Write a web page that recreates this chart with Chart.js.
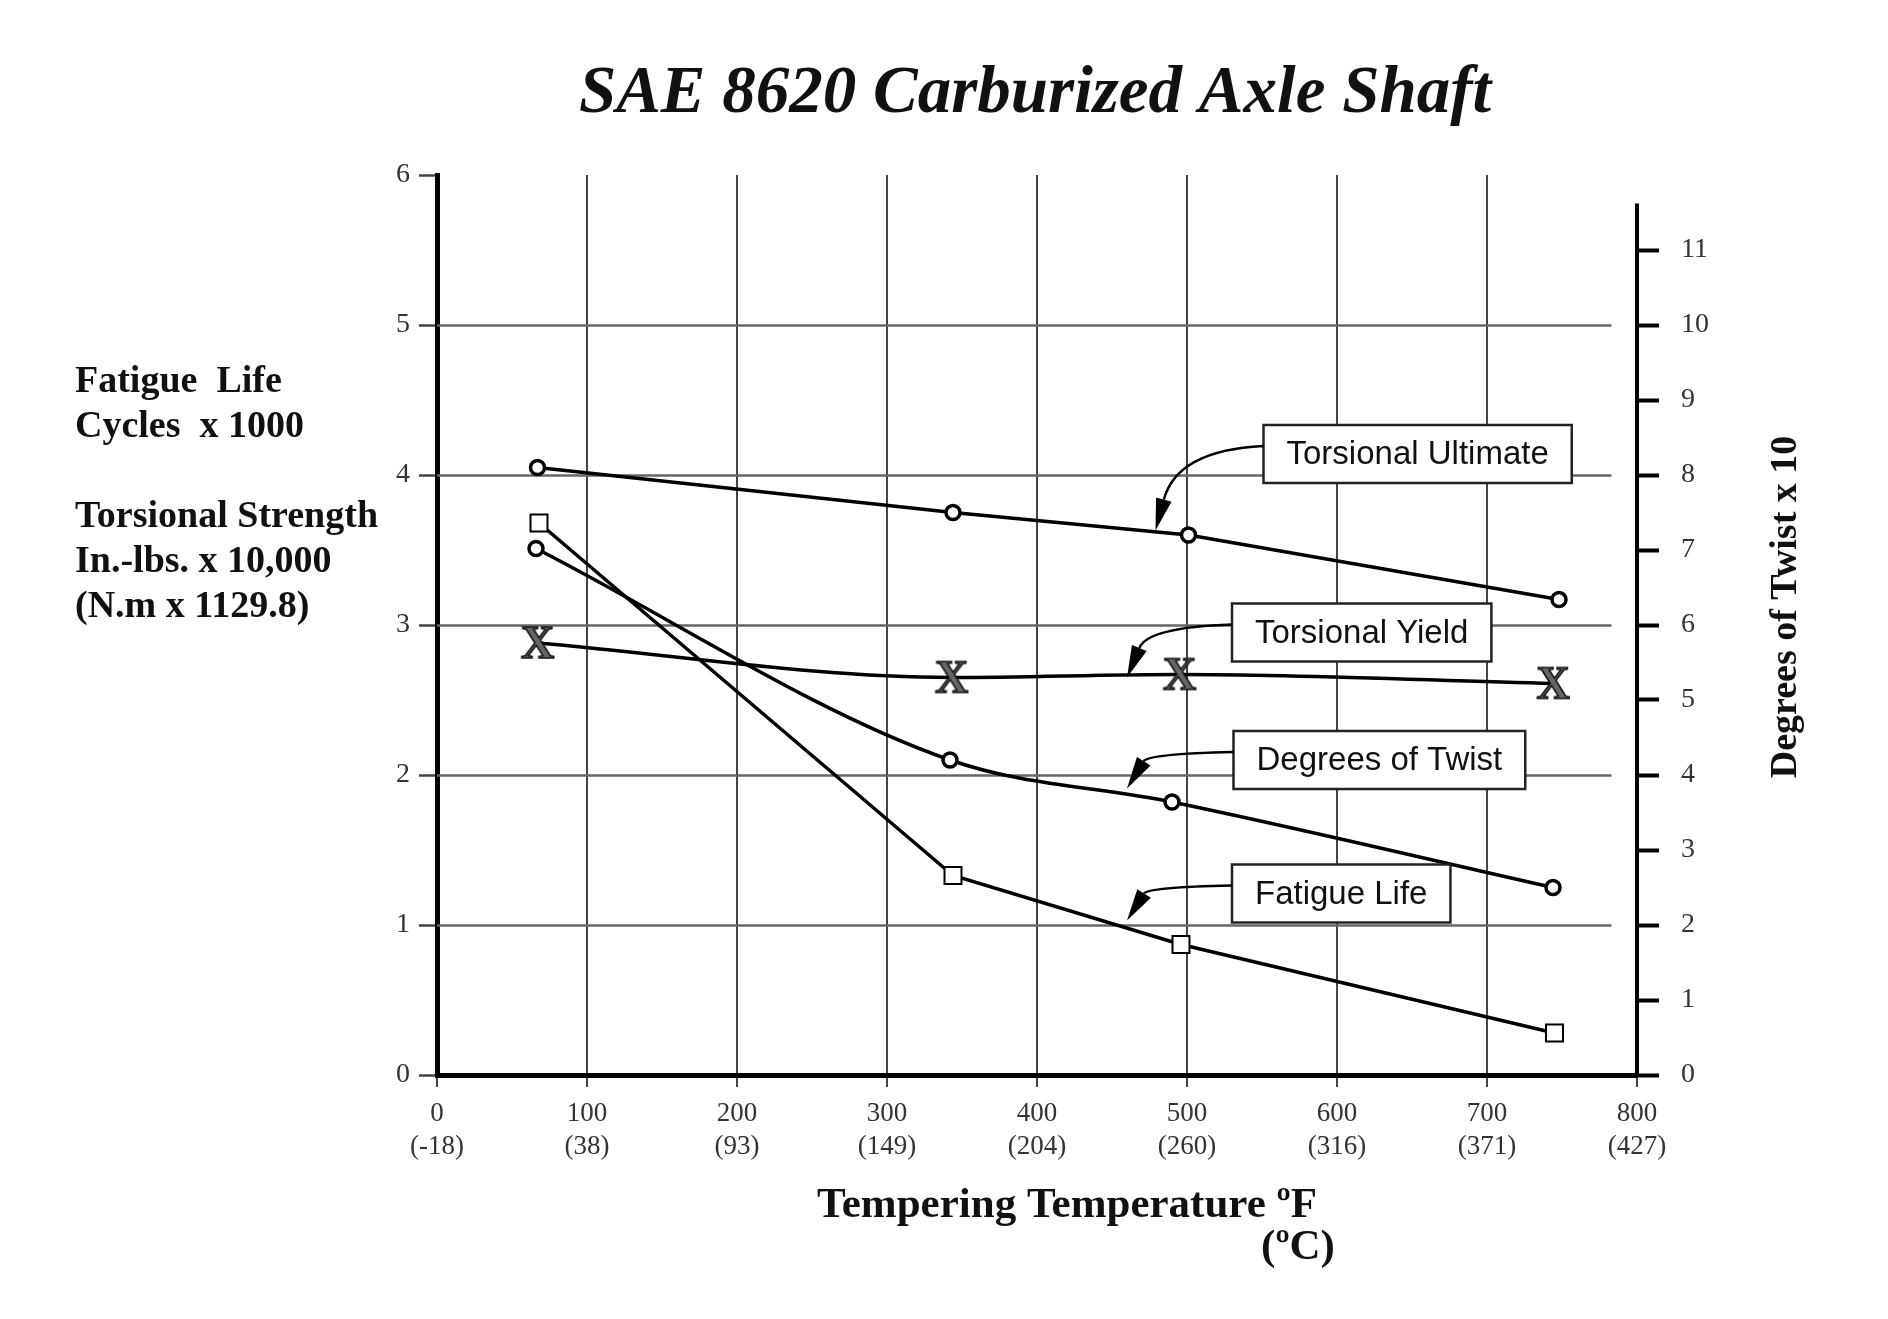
<!DOCTYPE html>
<html>
<head>
<meta charset="utf-8">
<title>SAE 8620 Carburized Axle Shaft</title>
<script src="https://cdn.jsdelivr.net/npm/chart.js@4.4.1/dist/chart.umd.min.js"></script>
<style>
  html, body { margin: 0; padding: 0; background: #fff; }
  #wrap { width: 1888px; height: 1319px; }
</style>
</head>
<body>
<div id="wrap"><canvas id="chart" width="1888" height="1319"></canvas></div>
<script>
// test points, tempering temperature in deg F
const ultimateTemps = [67, 344, 501, 748];
const ultimateValues = [4.05, 3.75, 3.60, 3.17];
const yieldTemps = [67, 343, 495, 744];
const yieldValues = [2.88, 2.65, 2.67, 2.61];
const twistTemps = [66, 342, 490, 744];
const twistValues = [7.02, 4.20, 3.64, 2.50];   // right axis, degrees x 10
const fatigueTemps = [68, 344, 496, 745];
const fatigueValues = [3.68, 1.33, 0.87, 0.28];

const celsiusLabels = ['(-18)', '(38)', '(93)', '(149)', '(204)', '(260)', '(316)', '(371)', '(427)'];

// callout boxes: box left edge / centre and arrow tip, in data units
const callouts = [
    { text: 'Torsional Ultimate', x: 551, y: 4.14, tipX: 479, tipY: 3.63 },
    { text: 'Torsional Yield', x: 530, y: 2.95, tipX: 460, tipY: 2.65 },
    { text: 'Degrees of Twist', x: 531, y: 2.10, tipX: 460, tipY: 1.91 },
    { text: 'Fatigue Life', x: 530, y: 1.21, tipX: 460, tipY: 1.03 }
];

const leftLabel = ['Fatigue  Life', 'Cycles  x 1000', '', 'Torsional Strength', 'In.-lbs. x 10,000', '(N.m x 1129.8)'];

const SERIF = '"Liberation Serif", "DejaVu Serif", serif';
const SANS = '"Liberation Sans", Arial, sans-serif';

function pts(xs, ys) {
    return xs.map((x, i) => ({ x: x, y: ys[i] }));
}

// the yield points are printed as a serif letter X
function makeXMark() {
    const c = document.createElement('canvas');
    c.width = 44;
    c.height = 44;
    const g = c.getContext('2d');
    g.font = 'bold 46px ' + SERIF;
    g.textAlign = 'center';
    g.textBaseline = 'alphabetic';
    g.fillStyle = '#666';
    g.strokeStyle = '#111';
    g.lineWidth = 1.6;
    g.fillText('X', 22, 22 + 0.662 * 46 / 2);
    g.strokeText('X', 22, 22 + 0.662 * 46 / 2);
    return c;
}

const lineBase = {
    borderColor: '#000',
    borderWidth: 3.5,
    tension: 0,
    pointBackgroundColor: '#fff',
    pointBorderColor: '#000',
    pointHoverRadius: 0,
    fill: false
};

const decor = {
    id: 'decor',
    beforeDatasetsDraw(chart) {
        // horizontal grid lines stop a little short of the right axis
        const { ctx, chartArea, scales } = chart;
        const xEnd = scales.x.getPixelForValue(783);
        ctx.save();
        ctx.strokeStyle = '#666';
        ctx.lineWidth = 2.5;
        scales.y.ticks.forEach(t => {
            if (t.value <= 0 || t.value >= 6) return;
            const py = Math.round(scales.y.getPixelForValue(t.value)) + 0.5;
            ctx.beginPath();
            ctx.moveTo(chartArea.left, py);
            ctx.lineTo(xEnd, py);
            ctx.stroke();
        });
        ctx.restore();
    },
    afterDatasetsDraw(chart) {
        const { ctx, chartArea, scales } = chart;
        const xs = scales.x, ys = scales.y, y2 = scales.y2;
        ctx.save();

        // right axis line (stops short of the top)
        ctx.strokeStyle = '#000';
        ctx.lineWidth = 4;
        ctx.beginPath();
        ctx.moveTo(chartArea.right, y2.getPixelForValue(11.62));
        ctx.lineTo(chartArea.right, y2.getPixelForValue(0) + 2);
        ctx.stroke();

        // callouts
        ctx.font = '33px ' + SANS;
        callouts.forEach(c => {
            const w = ctx.measureText(c.text).width + 46, h = 58;
            const bx = xs.getPixelForValue(c.x), by = ys.getPixelForValue(c.y);
            ctx.fillStyle = '#fff';
            ctx.fillRect(bx, by - h / 2, w, h);
            ctx.strokeStyle = '#222';
            ctx.lineWidth = 2.5;
            ctx.strokeRect(bx, by - h / 2, w, h);
            ctx.fillStyle = '#111';
            ctx.textAlign = 'left';
            ctx.textBaseline = 'middle';
            ctx.fillText(c.text, bx + 23, by + 1);

            const sx = bx, sy = by - 8;
            const tx = xs.getPixelForValue(c.tipX), ty = ys.getPixelForValue(c.tipY);
            const cx = tx + 0.2 * (sx - tx), cy = sy + 0.05 * (ty - sy);
            const ang = Math.atan2(ty - cy, tx - cx);
            const len = 32, half = 8;
            const baseX = tx - len * Math.cos(ang), baseY = ty - len * Math.sin(ang);
            ctx.strokeStyle = '#000';
            ctx.lineWidth = 2.5;
            ctx.beginPath();
            ctx.moveTo(sx, sy);
            ctx.quadraticCurveTo(cx, cy, baseX, baseY);
            ctx.stroke();
            ctx.fillStyle = '#000';
            ctx.beginPath();
            ctx.moveTo(tx, ty);
            ctx.lineTo(baseX + half * Math.sin(ang), baseY - half * Math.cos(ang));
            ctx.lineTo(baseX - half * Math.sin(ang), baseY + half * Math.cos(ang));
            ctx.closePath();
            ctx.fill();
        });
        ctx.restore();
    },
    afterDraw(chart) {
        const ctx = chart.ctx;
        ctx.save();
        ctx.fillStyle = '#111';
        ctx.textBaseline = 'alphabetic';

        ctx.textAlign = 'center';
        ctx.font = 'italic bold 67px ' + SERIF;
        ctx.fillText('SAE 8620 Carburized Axle Shaft', 1035, 112);

        ctx.textAlign = 'left';
        ctx.font = 'bold 38px ' + SERIF;
        leftLabel.forEach((t, i) => ctx.fillText(t, 75, 392 + i * 45));

        ctx.textAlign = 'center';
        ctx.font = 'bold 43px ' + SERIF;
        ctx.fillText('Tempering Temperature ºF', 1067, 1217);
        ctx.fillText('(ºC)', 1298, 1259);

        ctx.translate(1786, 607);
        ctx.rotate(-Math.PI / 2);
        ctx.textBaseline = 'middle';
        ctx.font = 'bold 38px ' + SERIF;
        ctx.fillText('Degrees of Twist x 10', 0, 0);
        ctx.restore();
    }
};

new Chart(document.getElementById('chart'), {
    type: 'line',
    data: {
        datasets: [
            Object.assign({}, lineBase, {
                label: 'Torsional Ultimate',
                data: pts(ultimateTemps, ultimateValues),
                pointStyle: 'circle', pointRadius: 7, pointBorderWidth: 3.5
            }),
            Object.assign({}, lineBase, {
                label: 'Torsional Yield',
                data: pts(yieldTemps, yieldValues),
                cubicInterpolationMode: 'monotone',
                pointStyle: makeXMark(), pointRadius: 22
            }),
            Object.assign({}, lineBase, {
                label: 'Degrees of Twist',
                data: pts(twistTemps, twistValues),
                yAxisID: 'y2',
                cubicInterpolationMode: 'monotone',
                pointStyle: 'circle', pointRadius: 7, pointBorderWidth: 3.5
            }),
            Object.assign({}, lineBase, {
                label: 'Fatigue Life',
                data: pts(fatigueTemps, fatigueValues),
                pointStyle: 'rect', pointRadius: 12, pointBorderWidth: 2
            })
        ]
    },
    options: {
        responsive: false,
        animation: false,
        devicePixelRatio: 1,
        layout: { padding: { top: 175, left: 0, right: 0, bottom: 0 } },
        scales: {
            x: {
                type: 'linear',
                min: 0,
                max: 800,
                afterFit: s => { s.height = 244; },
                border: { color: '#000', width: 5 },
                grid: {
                    color: c => (c.tick.value === 0 || c.tick.value === 800) ? 'rgba(0,0,0,0)' : '#444',
                    lineWidth: 2,
                    tickColor: '#444',
                    tickLength: 12
                },
                ticks: {
                    stepSize: 100,
                    maxRotation: 0,
                    padding: 11,
                    color: '#333',
                    font: { family: SERIF, size: 27 },
                    callback: (v, i) => [String(v), celsiusLabels[i]]
                }
            },
            y: {
                position: 'left',
                min: 0,
                max: 6,
                afterFit: s => { s.width = 437; },
                border: { color: '#000', width: 5 },
                grid: {
                    drawOnChartArea: false,
                    tickColor: '#444',
                    tickWidth: 2.5,
                    tickLength: 18
                },
                ticks: {
                    stepSize: 1,
                    padding: 9,
                    color: '#333',
                    font: { family: SERIF, size: 28 }
                }
            },
            y2: {
                position: 'right',
                min: 0,
                max: 12,
                afterFit: s => { s.width = 251; },
                border: { display: false },
                grid: {
                    drawOnChartArea: false,
                    tickColor: c => c.tick.value === 12 ? 'rgba(0,0,0,0)' : '#000',
                    tickWidth: 4,
                    tickLength: 22
                },
                ticks: {
                    stepSize: 1,
                    padding: 22,
                    color: '#333',
                    font: { family: SERIF, size: 28 },
                    callback: v => v === 12 ? '' : String(v)
                }
            }
        },
        plugins: {
            legend: { display: false },
            tooltip: { enabled: false }
        }
    },
    plugins: [decor]
});
</script>
</body>
</html>
